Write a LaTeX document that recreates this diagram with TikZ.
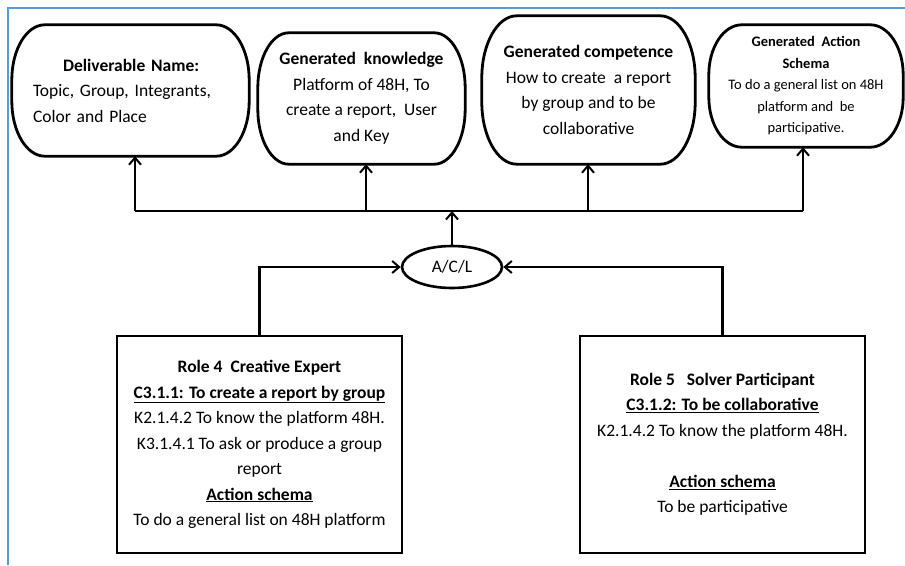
\documentclass[tikz,border=0pt]{standalone}
\usepackage{fontspec}
\setmainfont{Carlito}
\usetikzlibrary{arrows.meta,calc,shapes.geometric}
\definecolor{frameblue}{HTML}{5B9BD5}
\newcommand{\ovbox}[3]{%
  \draw[boxline] ($(#1.north west)+(#2,0)$) -- ($(#1.north east)+(-#2,0)$)
    arc[start angle=-90,end angle=0,x radius=#2,y radius=#3]
    -- ($(#1.south east)+(0,-#3)$)
    arc[start angle=0,end angle=90,x radius=#2,y radius=#3]
    -- ($(#1.south west)+(#2,0)$)
    arc[start angle=90,end angle=180,x radius=#2,y radius=#3]
    -- ($(#1.north west)+(0,#3)$)
    arc[start angle=180,end angle=270,x radius=#2,y radius=#3] -- cycle;}
\begin{document}
\begin{tikzpicture}[x=1pt,y=-1pt,
  boxline/.style={line width=2.8pt, line join=round},
  tbox/.style={inner sep=0pt, align=center, font=\fontsize{17.5}{25.5}\selectfont},
  sbox/.style={inner sep=0pt, align=center, font=\fontsize{14.5}{21.5}\selectfont},
  rbox/.style={tbox, draw, line width=2.8pt},
  conn/.style={line width=2.6pt},
  arr/.style={conn, -{Straight Barb[length=7pt,width=12pt,line width=2pt]}}]
\useasboundingbox (0,0) rectangle (905,565);
\draw[frameblue, line width=2.5pt] (8,565) -- (8,8) -- (905,8);

% top boxes
\node[tbox, minimum width=237pt, minimum height=131pt, text width=195pt, align=left, inner xsep=21pt] (b1) at (130.5,90.5)
  {\hspace*{30pt}\textbf{Deliverable Name:}\\Topic, Group, Integrants,\\Color and Place};
\ovbox{b1}{33}{55}
\node[tbox, minimum width=207pt, minimum height=131pt] (b2) at (361.5,98.5)
  {\textbf{Generated\ \ knowledge}\\Platform of 48H, To\\create a report,\ \ User\\and Key};
\ovbox{b2}{31}{55}
\node[tbox, minimum width=213pt, minimum height=148pt] (b3) at (588.5,90)
  {\textbf{Generated competence}\\How to create\ \ a report\\by group and to be\\collaborative};
\ovbox{b3}{35}{62}
\node[sbox, minimum width=194pt, minimum height=122pt] (b4) at (806,86)
  {\textbf{Generated\ \ Action}\\\textbf{Schema}\\To do a general list on 48H\\platform and\ \ be\\participative.};
\ovbox{b4}{33}{50}

% central ellipse
\node[ellipse, draw, line width=2.6pt, minimum width=100pt, minimum height=42pt, inner sep=0pt,
  font=\fontsize{17.5}{21}\selectfont] (acl) at (452,267) {A/C/L};

% bottom boxes
\node[rbox, minimum width=285pt, minimum height=217pt] (r4) at (259.5,444.5)
  {\textbf{Role 4\ \ Creative Expert}\\\underline{\textbf{C3.1.1: To create a report by group}}\\K2.1.4.2 To know the platform 48H.\hspace*{10pt}\\K3.1.4.1 To ask or produce a group\\report\\\underline{\textbf{Action schema}}\\To do a general list on 48H platform};
\node[rbox, minimum width=285pt, minimum height=217pt] (r5) at (722.5,444.5)
  {\textbf{Role 5\ \ \ Solver Participant}\\\underline{\textbf{C3.1.2: To be collaborative}}\\K2.1.4.2 To know the platform 48H.\\ \mbox{} \\\underline{\textbf{Action schema}}\\To be participative};

% bus and connectors
\coordinate (busL) at (135,211);
\coordinate (busR) at (803,211);
\coordinate (k2) at (366,211);
\coordinate (k3) at (588,211);
\draw[conn] (busL) -- (busR);
\draw[arr] (busL) -- (busL |- b1.south);
\draw[arr] (k2) -- (k2 |- b2.south);
\draw[arr] (k3) -- (k3 |- b3.south);
\draw[arr] (busR) -- (busR |- b4.south);
\draw[arr] (acl.north) -- (acl.north |- busL);
\draw[arr] (r4.north) -- (r4.north |- acl.west) -- (acl.west);
\draw[arr] (r5.north) -- (r5.north |- acl.east) -- (acl.east);
\end{tikzpicture}
\end{document}
